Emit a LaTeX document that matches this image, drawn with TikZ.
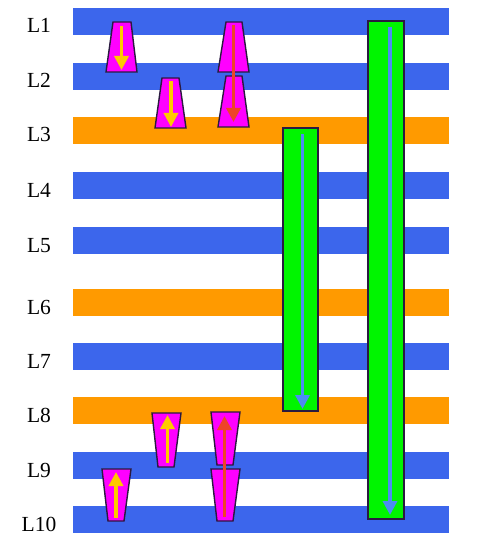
\documentclass[tikz,border=0pt]{standalone}
\usepackage{fontspec}
\setmainfont{Liberation Serif}
\usetikzlibrary{arrows.meta}
\definecolor{bandblue}{HTML}{3C66EC}
\definecolor{bandorange}{HTML}{FF9A00}
\definecolor{viamag}{HTML}{FF00FF}
\definecolor{viagreen}{HTML}{00F500}
\definecolor{arrowyellow}{HTML}{FFC800}
\definecolor{arrowred}{HTML}{EE4428}
\definecolor{arrowblue}{HTML}{4C8CF2}
\definecolor{edgedark}{HTML}{2A1A40}
\begin{document}
\begin{tikzpicture}[x=1pt,y=-1pt,
  lbl/.style={font=\fontsize{21.5}{24}\selectfont, anchor=base, inner sep=0pt},
  via/.style={fill=viamag, draw=edgedark, line width=1.4pt, line join=miter},
  bar/.style={fill=viagreen, draw=edgedark, line width=1.4pt},
  arr/.style={draw=#1, line width=3.3pt, -{Triangle[length=14pt,width=14pt]}}
]
\useasboundingbox (0,0) rectangle (477,548);
% bands: top y, colour, label
\foreach \t/\c/\n in {8/bandblue/L1, 63/bandblue/L2, 117/bandorange/L3, 172/bandblue/L4, 227/bandblue/L5, 289/bandorange/L6, 343/bandblue/L7, 397/bandorange/L8, 452/bandblue/L9, 506/bandblue/L10}{
  \fill[\c] (73,\t) rectangle (449,\t+27);
  \node[lbl] (lab\n) at (39,\t+25) {\n};
}
% green bars
\draw[bar] (283,128) rectangle (318,411);
\draw[bar] (368,21) rectangle (404,519);
\coordinate (g1s) at (302.5,134);
\coordinate (g1e) at (302.5,409);
\coordinate (g2s) at (390,27);
\coordinate (g2e) at (390,515);
\draw[arr=arrowblue] (g1s) -- (g1e);
\draw[arr=arrowblue] (g2s) -- (g2e);
% top vias (narrow at top)
\draw[via] (113,22) -- (131,22) -- (137,72) -- (106,72) -- cycle;
\draw[via] (162,78) -- (179,78) -- (186,128) -- (155,128) -- cycle;
\draw[via] (226,22) -- (242,22) -- (249,72) -- (218,72) -- cycle;
\draw[via] (226,76) -- (242,76) -- (249,127) -- (218,127) -- cycle;
\coordinate (a1s) at (121.5,26);
\coordinate (a1e) at (121.5,70);
\coordinate (a2s) at (171,81);
\coordinate (a2e) at (171,127);
\coordinate (a3s) at (233.5,25);
\coordinate (a3e) at (233.5,122);
\draw[arr=arrowyellow] (a1s) -- (a1e);
\draw[arr=arrowyellow] (a2s) -- (a2e);
\draw[arr=arrowred] (a3s) -- (a3e);
% bottom vias (wide at top)
\draw[via] (152,413) -- (181,413) -- (174,467) -- (158,467) -- cycle;
\draw[via] (102,469) -- (131,469) -- (124,521) -- (108,521) -- cycle;
\draw[via] (211,412) -- (240,412) -- (233,465) -- (217,465) -- cycle;
\draw[via] (211,469) -- (240,469) -- (233,521) -- (217,521) -- cycle;
\coordinate (b1s) at (167.5,463);
\coordinate (b1e) at (167.5,415);
\coordinate (b2s) at (116,518);
\coordinate (b2e) at (116,472);
\coordinate (b3s) at (224.5,517);
\coordinate (b3e) at (224.5,416);
\draw[arr=arrowyellow] (b1s) -- (b1e);
\draw[arr=arrowyellow] (b2s) -- (b2e);
\draw[arr=arrowred] (b3s) -- (b3e);
\end{tikzpicture}
\end{document}
